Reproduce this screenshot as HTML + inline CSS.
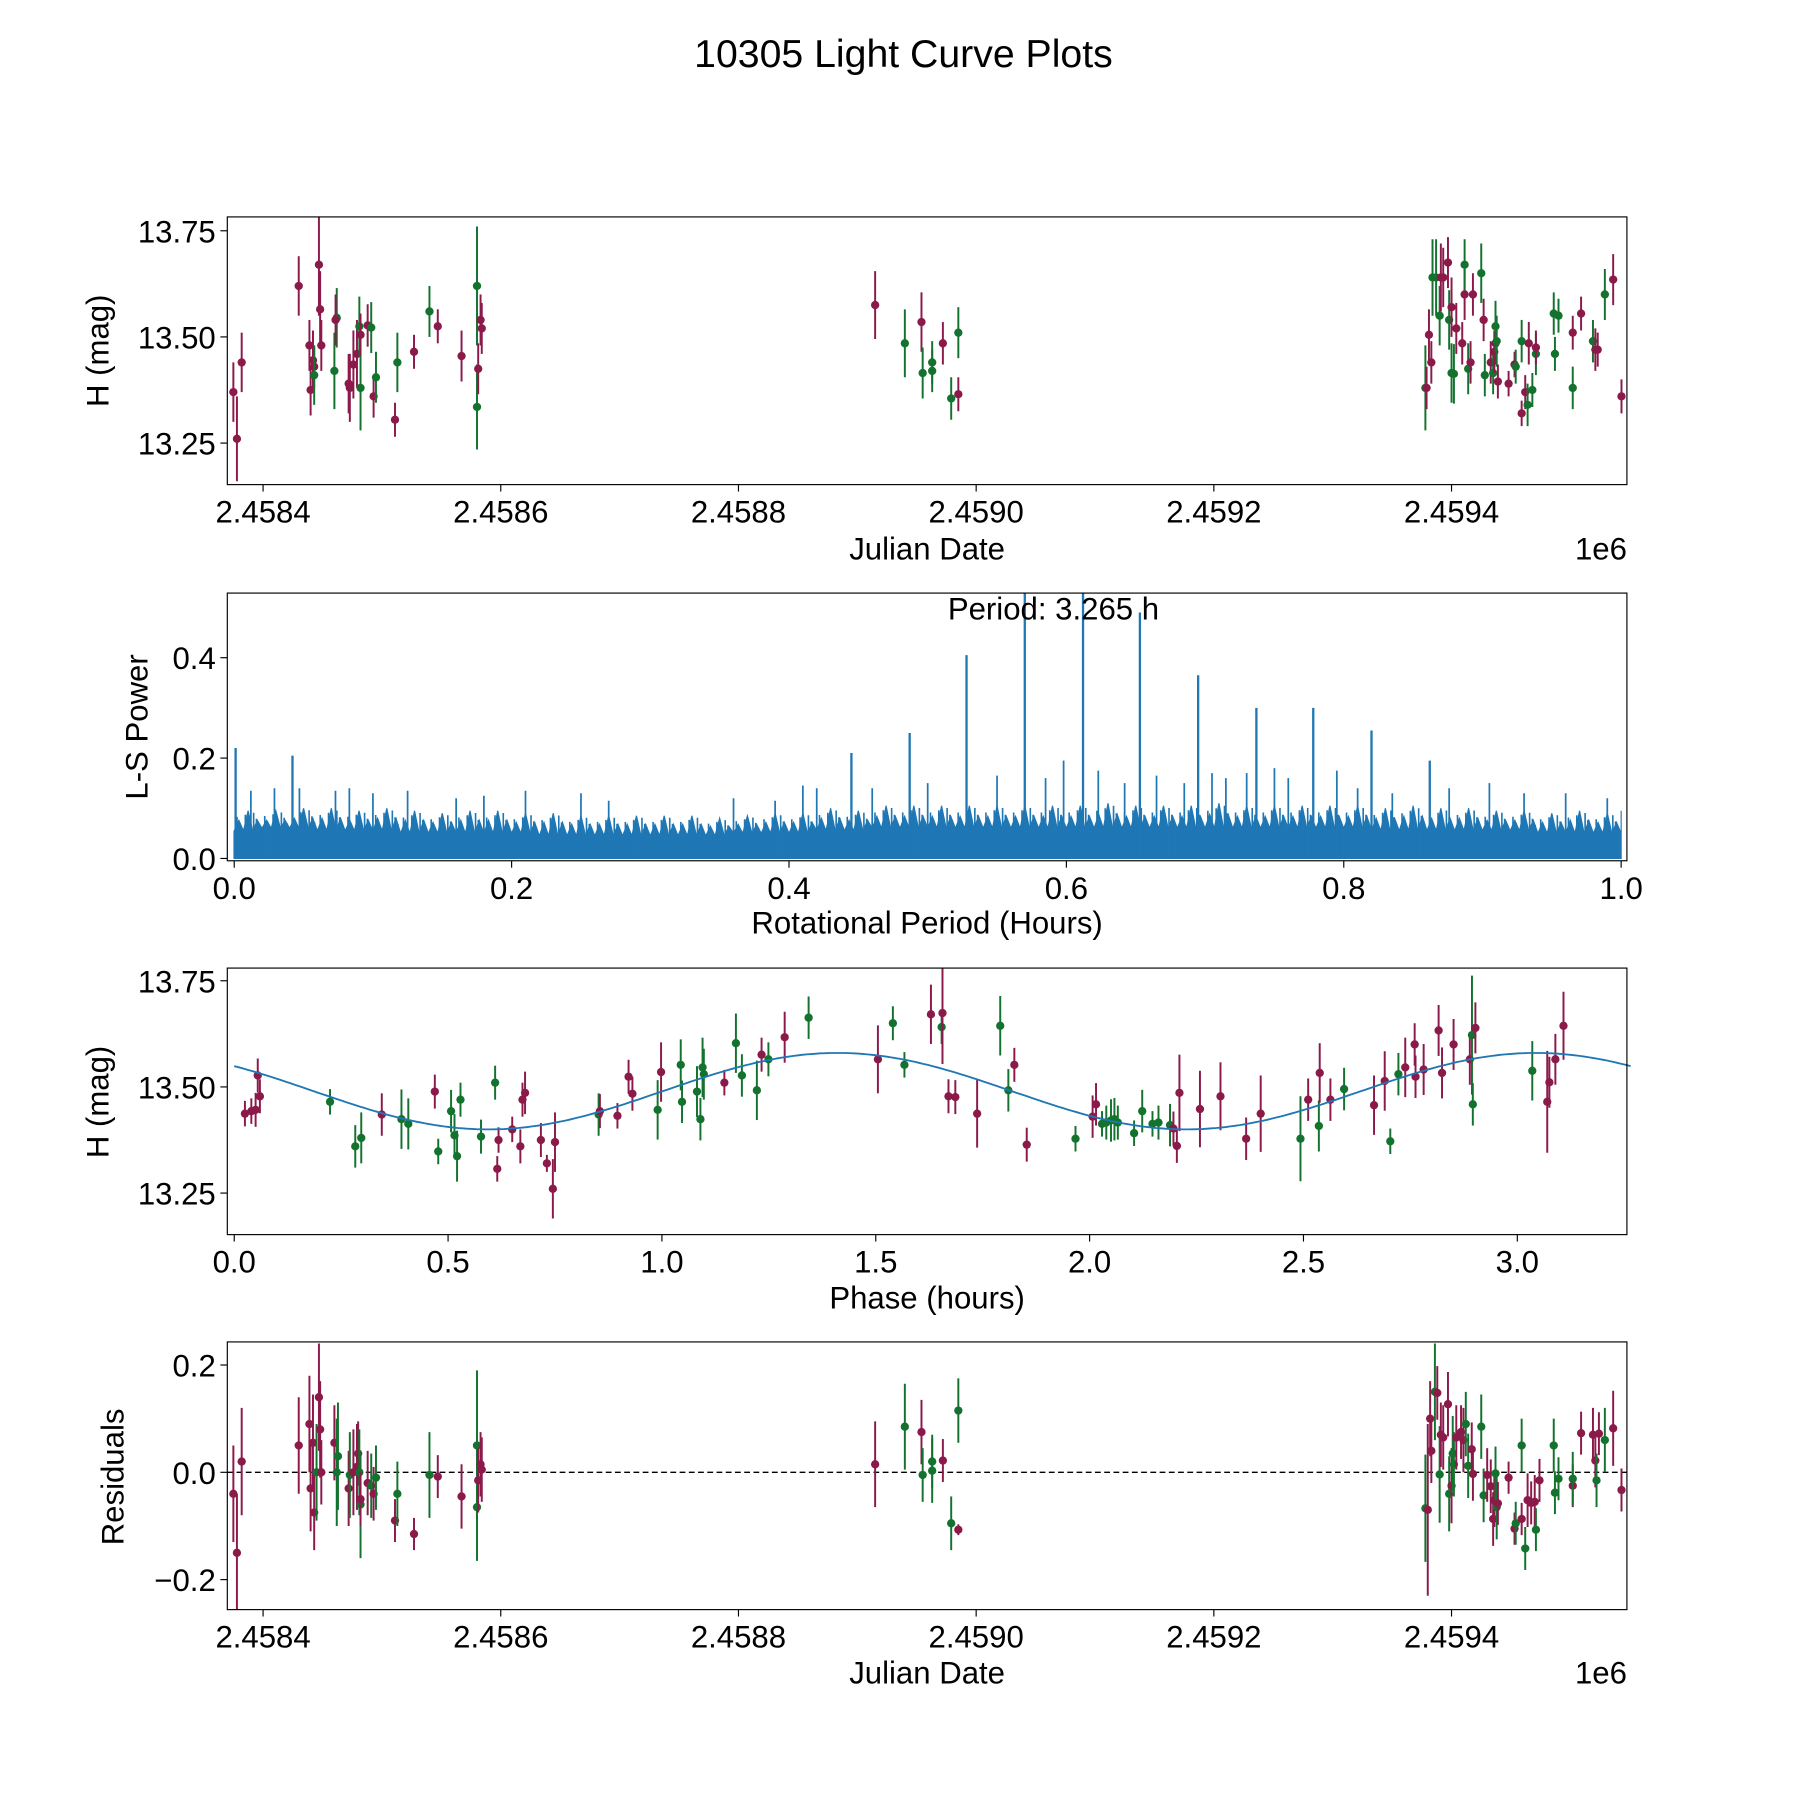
<!DOCTYPE html>
<html><head><meta charset="utf-8">
<style>
html,body{margin:0;padding:0;background:#fff;}
svg{display:block;font-family:"Liberation Sans","DejaVu Sans",sans-serif;}
</style></head>
<body>
<svg id="fig" width="1800" height="1800" viewBox="0 0 1560 1560" xmlns="http://www.w3.org/2000/svg">
<rect x="0" y="0" width="1560" height="1560" fill="#fff"/>
<text x="783" y="58" font-size="34" text-anchor="middle">10305 Light Curve Plots</text>
</svg>
<script>
// ---------- DATA ----------
// Light curve: [day offset from JD 2458400, H mag, error, colour p/g]
const lcObs = [
[-25,13.37,0.07,'p'],[-22,13.26,0.1,'p'],[-18,13.44,0.07,'p'],[30,13.62,0.07,'p'],[39,13.48,0.06,'p'],[40,13.375,0.06,'p'],[42,13.445,0.07,'p'],[43,13.43,0.05,'p'],[43,13.41,0.07,'g'],[47,13.67,0.12,'p'],[48,13.565,0.09,'p'],[49,13.48,0.06,'p'],[60,13.42,0.09,'g'],[62,13.545,0.07,'g'],[61,13.54,0.06,'p'],[72,13.39,0.07,'p'],[73,13.38,0.08,'p'],[76,13.435,0.08,'p'],[79,13.46,0.08,'p'],[81,13.525,0.07,'g'],[82,13.38,0.1,'g'],[82,13.505,0.05,'p'],[88,13.527,0.05,'p'],[91,13.522,0.06,'g'],[93,13.36,0.05,'p'],[95,13.405,0.06,'g'],[111,13.305,0.04,'p'],[113,13.44,0.07,'g'],[127,13.465,0.04,'p'],[140,13.56,0.06,'g'],[147,13.525,0.04,'p'],[167,13.455,0.06,'p'],[180,13.62,0.14,'g'],[180,13.335,0.1,'g'],[181,13.425,0.06,'p'],[183,13.54,0.06,'p'],[184,13.52,0.06,'p'],
[515,13.575,0.08,'p'],[540,13.485,0.08,'g'],[554,13.535,0.07,'p'],[555,13.415,0.06,'g'],[563,13.42,0.05,'g'],[563,13.44,0.05,'g'],[572,13.485,0.05,'p'],[579,13.355,0.05,'g'],[585,13.51,0.06,'g'],[585,13.365,0.04,'p'],
[978,13.38,0.1,'g'],[979,13.38,0.05,'p'],[981,13.505,0.06,'p'],[983,13.44,0.05,'p'],[984,13.64,0.09,'g'],[987,13.64,0.09,'g'],[990,13.55,0.07,'g'],[991,13.64,0.08,'p'],[993,13.64,0.07,'p'],[997,13.675,0.06,'p'],[998,13.54,0.07,'g'],[1000,13.57,0.07,'p'],[1000,13.415,0.07,'g'],[1002,13.413,0.07,'g'],[1004,13.52,0.06,'p'],[1009,13.485,0.05,'p'],[1011,13.6,0.06,'p'],[1011,13.67,0.06,'g'],[1014,13.425,0.06,'g'],[1016,13.44,0.05,'p'],[1018,13.6,0.05,'p'],[1025,13.65,0.07,'g'],[1027,13.54,0.05,'p'],[1028,13.41,0.05,'g'],[1033,13.44,0.05,'p'],[1035,13.415,0.05,'g'],[1036,13.465,0.05,'p'],[1037,13.485,0.05,'p'],[1037,13.525,0.06,'g'],[1038,13.49,0.06,'g'],[1039,13.395,0.04,'p'],[1048,13.39,0.03,'p'],[1053,13.435,0.03,'p'],[1054,13.43,0.04,'g'],[1059,13.49,0.05,'g'],[1059,13.32,0.03,'p'],[1062,13.37,0.04,'p'],[1064,13.34,0.05,'g'],[1065,13.485,0.05,'p'],[1068,13.375,0.04,'g'],[1071,13.46,0.05,'g'],[1071,13.475,0.04,'p'],[1086,13.555,0.05,'g'],[1087,13.46,0.04,'g'],[1090,13.55,0.04,'g'],[1102,13.51,0.04,'p'],[1102,13.38,0.05,'g'],[1109,13.555,0.04,'p'],[1119,13.49,0.05,'g'],[1121,13.47,0.05,'p'],[1123,13.47,0.04,'p'],[1129,13.6,0.06,'g'],[1136,13.635,0.06,'p'],[1143,13.36,0.04,'p']
];
const jdTicks = [0,200,400,600,800,1000];
const jdTickLabels = ['2.4584','2.4586','2.4588','2.4590','2.4592','2.4594'];
const magTicks = [13.25,13.5,13.75];
const magTickLabels = ['13.25','13.50','13.75'];

// Periodogram
const lsPeaks = [[0.001,0.22],[0.042,0.205],[0.445,0.21],[0.487,0.25],[0.528,0.405],[0.570,0.6],[0.612,0.6],[0.653,0.49],[0.695,0.365],[0.737,0.30],[0.778,0.30],[0.820,0.255],[0.862,0.195]];
const lsMinorPeaks = [[0.012,0.135],[0.029,0.14],[0.047,0.14],[0.073,0.135],[0.083,0.14],[0.10,0.13],[0.125,0.135],[0.16,0.12],[0.18,0.125],[0.21,0.135],[0.25,0.13],[0.27,0.115],[0.36,0.12],[0.39,0.115],[0.41,0.145],[0.42,0.14],[0.46,0.14],[0.50,0.15],[0.55,0.165],[0.585,0.16],[0.598,0.195],[0.623,0.175],[0.642,0.15],[0.665,0.165],[0.685,0.15],[0.705,0.17],[0.715,0.16],[0.73,0.17],[0.75,0.18],[0.76,0.16],[0.795,0.175],[0.81,0.14],[0.835,0.13],[0.876,0.14],[0.905,0.15],[0.93,0.13],[0.96,0.13],[0.99,0.12]];
const lsBandTop = [0.095,0.095,0.1,0.1,0.095,0.1,0.095,0.09,0.095,0.095,0.09,0.09,0.085,0.085,0.085,0.085,0.085,0.08,0.085,0.09,0.09,0.1,0.095,0.105,0.105,0.105,0.105,0.105,0.105,0.105,0.105,0.11,0.105,0.105,0.105,0.11,0.105,0.105,0.105,0.105,0.105,0.1,0.105,0.1,0.1,0.095,0.095,0.09,0.095,0.09,0.095];
const lsSolidTop = [0.055,0.06,0.06,0.055,0.055,0.055,0.05,0.05,0.05,0.05,0.05,0.045,0.045,0.045,0.045,0.045,0.045,0.045,0.05,0.05,0.05,0.055,0.055,0.06,0.06,0.06,0.06,0.06,0.06,0.06,0.06,0.06,0.06,0.06,0.06,0.06,0.06,0.06,0.06,0.06,0.06,0.055,0.055,0.055,0.055,0.055,0.055,0.05,0.05,0.05,0.05];
const lsTicks = [0,0.2,0.4,0.6,0.8,1.0];
const lsTickLabels = ['0.0','0.2','0.4','0.6','0.8','1.0'];
const powTicks = [0,0.2,0.4];
const powTickLabels = ['0.0','0.2','0.4'];

// Phased: [phase hours, mag, err, colour]
const phaseObs = [
[0.025,13.437,0.03,'p'],[0.04,13.443,0.03,'p'],[0.05,13.446,0.04,'p'],[0.055,13.527,0.04,'p'],[0.06,13.478,0.04,'p'],[0.224,13.465,0.03,'g'],[0.283,13.36,0.05,'g'],[0.297,13.38,0.06,'g'],[0.345,13.435,0.05,'p'],[0.391,13.424,0.07,'g'],[0.407,13.413,0.06,'g'],[0.469,13.489,0.04,'p'],[0.477,13.348,0.03,'g'],[0.507,13.443,0.05,'g'],[0.515,13.386,0.05,'g'],[0.521,13.337,0.06,'g'],[0.529,13.47,0.04,'g'],[0.577,13.383,0.04,'g'],[0.61,13.51,0.04,'g'],[0.615,13.307,0.03,'p'],[0.618,13.375,0.03,'p'],[0.65,13.4,0.03,'p'],[0.669,13.36,0.04,'p'],[0.674,13.47,0.04,'p'],[0.68,13.486,0.05,'p'],[0.717,13.375,0.04,'p'],[0.731,13.32,0.02,'p'],[0.745,13.26,0.07,'p'],[0.75,13.37,0.07,'p'],[0.852,13.435,0.05,'g'],[0.855,13.443,0.04,'p'],[0.896,13.432,0.03,'p'],[0.922,13.524,0.04,'p'],[0.931,13.484,0.04,'p'],[0.99,13.446,0.07,'g'],[0.998,13.535,0.07,'p'],[1.044,13.552,0.06,'g'],[1.047,13.465,0.05,'g'],[1.082,13.489,0.06,'g'],[1.09,13.424,0.05,'g'],[1.095,13.546,0.07,'g'],[1.098,13.53,0.06,'g'],[1.146,13.51,0.03,'p'],[1.173,13.603,0.07,'g'],[1.187,13.527,0.05,'g'],[1.222,13.492,0.07,'g'],[1.233,13.576,0.04,'p'],[1.249,13.565,0.04,'g'],[1.287,13.617,0.06,'p'],[1.343,13.663,0.05,'g'],[1.505,13.565,0.08,'p'],[1.54,13.65,0.04,'g'],[1.567,13.552,0.03,'g'],[1.629,13.671,0.07,'p'],[1.654,13.641,0.04,'g'],[1.656,13.674,0.12,'p'],[1.67,13.478,0.04,'p'],[1.686,13.476,0.04,'p'],[1.737,13.437,0.08,'p'],[1.791,13.644,0.07,'g'],[1.81,13.492,0.05,'g'],[1.824,13.552,0.04,'p'],[1.853,13.364,0.04,'p'],[1.967,13.378,0.03,'g'],[2.007,13.43,0.05,'p'],[2.015,13.459,0.05,'p'],[2.029,13.413,0.03,'g'],[2.039,13.416,0.04,'g'],[2.05,13.421,0.05,'g'],[2.058,13.424,0.05,'g'],[2.066,13.416,0.04,'g'],[2.104,13.391,0.03,'g'],[2.123,13.443,0.05,'g'],[2.147,13.413,0.03,'g'],[2.161,13.416,0.04,'g'],[2.188,13.41,0.05,'g'],[2.196,13.402,0.04,'p'],[2.204,13.361,0.04,'p'],[2.21,13.486,0.09,'p'],[2.258,13.448,0.09,'p'],[2.306,13.478,0.08,'p'],[2.366,13.378,0.05,'p'],[2.4,13.437,0.09,'p'],[2.493,13.378,0.1,'g'],[2.511,13.47,0.05,'p'],[2.536,13.408,0.06,'g'],[2.538,13.533,0.07,'p'],[2.563,13.47,0.05,'p'],[2.595,13.495,0.05,'g'],[2.665,13.457,0.07,'p'],[2.69,13.514,0.07,'p'],[2.703,13.372,0.03,'g'],[2.722,13.53,0.05,'g'],[2.738,13.546,0.07,'p'],[2.76,13.6,0.05,'p'],[2.762,13.524,0.05,'p'],[2.781,13.541,0.06,'p'],[2.816,13.633,0.06,'p'],[2.824,13.533,0.06,'p'],[2.851,13.6,0.06,'p'],[2.889,13.565,0.06,'p'],[2.894,13.622,0.14,'g'],[2.896,13.459,0.05,'g'],[2.902,13.639,0.06,'p'],[3.035,13.538,0.07,'g'],[3.07,13.465,0.12,'p'],[3.075,13.511,0.06,'p'],[3.089,13.565,0.06,'p'],[3.108,13.644,0.08,'p']
];
const fitParams = [13.49, 0.09, 1.6325, 1.002]; // mean, amplitude, half-period (h), phase zero
const phaseTicks = [0,0.5,1,1.5,2,2.5,3];
const phaseTickLabels = ['0.0','0.5','1.0','1.5','2.0','2.5','3.0'];

// Residuals: [day offset, residual, error, colour]
const residObs = [
[-25,-0.04,0.09,'p'],[-22,-0.15,0.11,'p'],[-18,0.02,0.1,'p'],[30,0.05,0.09,'p'],[39,0.09,0.09,'p'],[40,-0.03,0.08,'p'],[42,0.055,0.09,'p'],[43,-0.075,0.07,'p'],[45,0.0,0.09,'g'],[47,0.14,0.1,'p'],[48,0.08,0.09,'p'],[49,0.0,0.06,'p'],[60,0.055,0.07,'p'],[62,0.0,0.1,'g'],[63,0.03,0.1,'g'],[72,-0.03,0.07,'p'],[73,-0.005,0.08,'g'],[76,0.0,0.08,'p'],[79,0.01,0.08,'p'],[80,0.035,0.06,'p'],[81,0.0,0.08,'g'],[82,-0.06,0.1,'g'],[82,-0.05,0.05,'p'],[88,-0.02,0.06,'p'],[91,-0.025,0.06,'g'],[93,-0.04,0.05,'p'],[95,-0.01,0.06,'g'],[111,-0.09,0.04,'p'],[113,-0.04,0.06,'g'],[127,-0.115,0.03,'p'],[140,-0.005,0.08,'g'],[147,-0.008,0.04,'p'],[167,-0.045,0.06,'p'],[180,0.05,0.14,'g'],[180,-0.065,0.1,'g'],[181,-0.015,0.06,'p'],[183,0.015,0.06,'p'],[184,0.005,0.06,'p'],
[515,0.015,0.08,'p'],[540,0.085,0.08,'g'],[554,0.075,0.06,'p'],[555,-0.005,0.05,'g'],[563,0.02,0.05,'g'],[563,0.003,0.06,'g'],[572,0.022,0.04,'p'],[579,-0.095,0.05,'g'],[585,0.115,0.06,'g'],[585,-0.107,0.01,'p'],
[978,-0.067,0.1,'g'],[980,-0.07,0.16,'p'],[982,0.1,0.07,'p'],[983,0.04,0.06,'p'],[986,0.15,0.09,'g'],[988,0.148,0.05,'p'],[990,-0.004,0.09,'g'],[991,0.07,0.06,'p'],[993,0.065,0.06,'p'],[997,0.127,0.06,'p'],[998,-0.04,0.07,'g'],[1000,-0.025,0.07,'p'],[1001,0.035,0.07,'g'],[1002,0.015,0.06,'g'],[1004,0.065,0.06,'p'],[1008,0.075,0.05,'p'],[1010,0.06,0.06,'p'],[1012,0.09,0.06,'g'],[1014,0.012,0.06,'g'],[1017,0.043,0.05,'p'],[1018,-0.003,0.05,'p'],[1025,0.085,0.06,'g'],[1027,-0.043,0.05,'g'],[1030,-0.005,0.05,'p'],[1033,-0.026,0.05,'p'],[1035,-0.087,0.05,'p'],[1036,-0.052,0.05,'p'],[1037,-0.002,0.05,'g'],[1038,-0.065,0.06,'g'],[1039,-0.058,0.04,'p'],[1048,-0.01,0.03,'p'],[1053,-0.105,0.03,'p'],[1054,-0.095,0.04,'g'],[1059,0.05,0.05,'g'],[1059,-0.087,0.03,'p'],[1062,-0.142,0.04,'g'],[1064,-0.052,0.05,'p'],[1067,-0.057,0.04,'p'],[1070,-0.055,0.05,'p'],[1071,-0.107,0.04,'g'],[1074,-0.015,0.04,'p'],[1086,0.05,0.05,'g'],[1087,-0.038,0.04,'g'],[1090,-0.012,0.04,'g'],[1102,-0.025,0.04,'p'],[1102,-0.012,0.05,'g'],[1109,0.073,0.04,'p'],[1119,0.07,0.05,'p'],[1121,0.022,0.05,'p'],[1122,-0.015,0.05,'g'],[1124,0.072,0.04,'p'],[1129,0.06,0.06,'g'],[1136,0.082,0.07,'p'],[1143,-0.033,0.04,'p']
];
const residTicks = [-0.2,0,0.2];
const residTickLabels = ['\u22120.2','0.0','0.2'];

// ---------- DRAWING ----------
const NS = 'http://www.w3.org/2000/svg';
const svg = document.getElementById('fig');
const COL = {p:'#8b1a4b', g:'#13732e'};
const LEFT = 197, RIGHT = 1410;
const FS = 27;
function mk(tag, attrs, parent){
  const e = document.createElementNS(NS, tag);
  for (const k in attrs) e.setAttribute(k, attrs[k]);
  (parent||svg).appendChild(e);
  return e;
}
function lin(d0,d1,r0,r1){ return v => r0 + (v-d0)/(d1-d0)*(r1-r0); }

function axesFrame(name){
  const g = mk('g', {});
  
  
  return g;
}
function drawFrame(g, top, bottom){
  const r = mk('rect', {x:LEFT, y:top, width:RIGHT-LEFT, height:bottom-top, fill:'none', stroke:'#000', 'stroke-width':1}, g);
  
  
}
function xTicks(g, ticks, labels, sx, bottom){
  ticks.forEach((t,i)=>{
    const x = sx(t);
    mk('line', {x1:x, x2:x, y1:bottom, y2:bottom+6, stroke:'#000', 'stroke-width':1}, g);
    const tx = mk('text', {x:x, y:bottom+33, 'font-size':FS, 'text-anchor':'middle'}, g);
    
    
    tx.textContent = labels[i];
  });
}
function yTicks(g, ticks, labels, sy){
  ticks.forEach((t,i)=>{
    const y = sy(t);
    mk('line', {x1:LEFT-6, x2:LEFT, y1:y, y2:y, stroke:'#000', 'stroke-width':1}, g);
    const tx = mk('text', {x:LEFT-10, y:y+10, 'font-size':FS, 'text-anchor':'end'}, g);
    
    
    tx.textContent = labels[i];
  });
}
function xLabel(g, text, y){
  const t = mk('text', {x:(LEFT+RIGHT)/2, y:y, 'font-size':FS, 'text-anchor':'middle'}, g);
  
  
  t.textContent = text;
}
function yLabel(g, text, x, cy){
  const t = mk('text', {x:x, y:cy, 'font-size':FS, 'text-anchor':'middle', transform:`rotate(-90 ${x} ${cy})`}, g);
  
  
  t.textContent = text;
}
function offsetLabel(g, y){
  const t = mk('text', {x:RIGHT, y:y, 'font-size':FS, 'text-anchor':'end'}, g);
  
  
  t.textContent = '1e6';
}
function points(g, data, sx, sy, top, bottom){
  const cp = mk('clipPath', {id:'clip'+top});
  mk('rect', {x:LEFT, y:top, width:RIGHT-LEFT, height:bottom-top}, cp);
  const cg = mk('g', {'clip-path':`url(#clip${top})`}, g);
  data.forEach(d=>{
    const x = sx(d[0]), c = COL[d[3]];
    const l = mk('line', {x1:x, x2:x, y1:sy(d[1]-d[2]), y2:sy(d[1]+d[2]), stroke:c, 'stroke-width':1.7}, cg);
    
    
    const p = mk('circle', {cx:x, cy:sy(d[1]), r:3.6, fill:c}, cg);
    
    
  });
}

// Panel 1: light curve
(function(){
  const top=188, bottom=420;
  const g = axesFrame('light-curve-panel');
  const sx = lin(0,200,228,434), sy = lin(13.25,13.75,384,200);
  points(g, lcObs, sx, sy, top, bottom);
  drawFrame(g, top, bottom);
  xTicks(g, jdTicks, jdTickLabels, sx, bottom);
  yTicks(g, magTicks, magTickLabels, sy);
  xLabel(g, 'Julian Date', 485);
  yLabel(g, 'H (mag)', 94, 304);
  offsetLabel(g, 485);
})();

// Panel 2: periodogram
(function(){
  const top=514, bottom=746;
  const g = axesFrame('periodogram-panel');
  const sx = lin(0,1,203,1405), sy = lin(0,0.4,744,570);
  const cp = mk('clipPath', {id:'clipLS'});
  mk('rect', {x:LEFT, y:top, width:RIGHT-LEFT, height:bottom-top}, cp);
  const cg = mk('g', {'clip-path':'url(#clipLS)'}, g);
  const blue = '#1f77b4';
  const n = lsBandTop.length;
  let d = `M${sx(0)},${sy(0)}`;
  for (let i=0;i<n;i++){
    const x0 = i/(n-1);
    const step = 1/(n-1);
    for (let k=0;k<6;k++){
      const xx = Math.min(1, x0 + k*step/6);
      const v = (k%2===0) ? lsSolidTop[i] : lsBandTop[i]*(k===3?1:0.8);
      d += ` L${sx(xx)},${sy(v)}`;
    }
  }
  d += ` L${sx(1)},${sy(0)} Z`;
  const band = mk('path', {d:d, fill:blue, stroke:blue, 'stroke-width':1}, cg);
  
  
  for (let i=0;i<n-1;i++){
    for (let k=0;k<10;k++){
      const xx = (i + k/10)/(n-1);
      const v = lsSolidTop[i] + (lsBandTop[i]-lsSolidTop[i])*((k*7)%10)/10;
      mk('line', {x1:sx(xx), x2:sx(xx), y1:sy(0), y2:sy(v), stroke:blue, 'stroke-width':1.4}, cg);
    }
  }
  lsMinorPeaks.forEach(p=>{
    const l = mk('line', {x1:sx(p[0]), x2:sx(p[0]), y1:sy(0), y2:sy(p[1]), stroke:blue, 'stroke-width':1.5}, cg);
    
    
  });
  lsPeaks.forEach(p=>{
    const l = mk('line', {x1:sx(p[0]), x2:sx(p[0]), y1:sy(0), y2:sy(p[1]), stroke:blue, 'stroke-width':2}, cg);
    
    
  });
  drawFrame(g, top, bottom);
  xTicks(g, lsTicks, lsTickLabels, sx, bottom);
  yTicks(g, powTicks, powTickLabels, sy);
  xLabel(g, 'Rotational Period (Hours)', 809);
  yLabel(g, 'L-S Power', 128, 630);
  const pt = mk('text', {x:913, y:537, 'font-size':FS, 'text-anchor':'middle'}, g);
  
  
  pt.textContent = 'Period: 3.265 h';
})();

// Panel 3: phased
(function(){
  const top=839, bottom=1070;
  const g = axesFrame('phased-curve-panel');
  const sx = lin(0,3,203,1315), sy = lin(13.25,13.75,1034,850);
  points(g, phaseObs, sx, sy, top, bottom);
  let d='';
  for (let i=0;i<=300;i++){
    const t = 3.265*i/300;
    const v = fitParams[0] + fitParams[1]*Math.sin(2*Math.PI*(t-fitParams[3])/fitParams[2]);
    d += (i?' L':'M') + sx(t).toFixed(1) + ',' + sy(v).toFixed(1);
  }
  const fit = mk('path', {d:d, fill:'none', stroke:'#1f77b4', 'stroke-width':1.6}, g);
  
  
  drawFrame(g, top, bottom);
  xTicks(g, phaseTicks, phaseTickLabels, sx, bottom);
  yTicks(g, magTicks, magTickLabels, sy);
  xLabel(g, 'Phase (hours)', 1134);
  yLabel(g, 'H (mag)', 94, 955);
})();

// Panel 4: residuals
(function(){
  const top=1163, bottom=1395;
  const g = axesFrame('residuals-panel');
  const sx = lin(0,200,228,434), sy = lin(-0.2,0.2,1369,1183);
  const zl = mk('line', {x1:LEFT, x2:RIGHT, y1:sy(0), y2:sy(0), stroke:'#000', 'stroke-width':1.2, 'stroke-dasharray':'5,3'}, g);
  
  
  points(g, residObs, sx, sy, top, bottom);
  drawFrame(g, top, bottom);
  xTicks(g, jdTicks, jdTickLabels, sx, bottom);
  yTicks(g, residTicks, residTickLabels, sy);
  xLabel(g, 'Julian Date', 1459);
  yLabel(g, 'Residuals', 107, 1280);
  offsetLabel(g, 1459);
})();
</script>
</body></html>
